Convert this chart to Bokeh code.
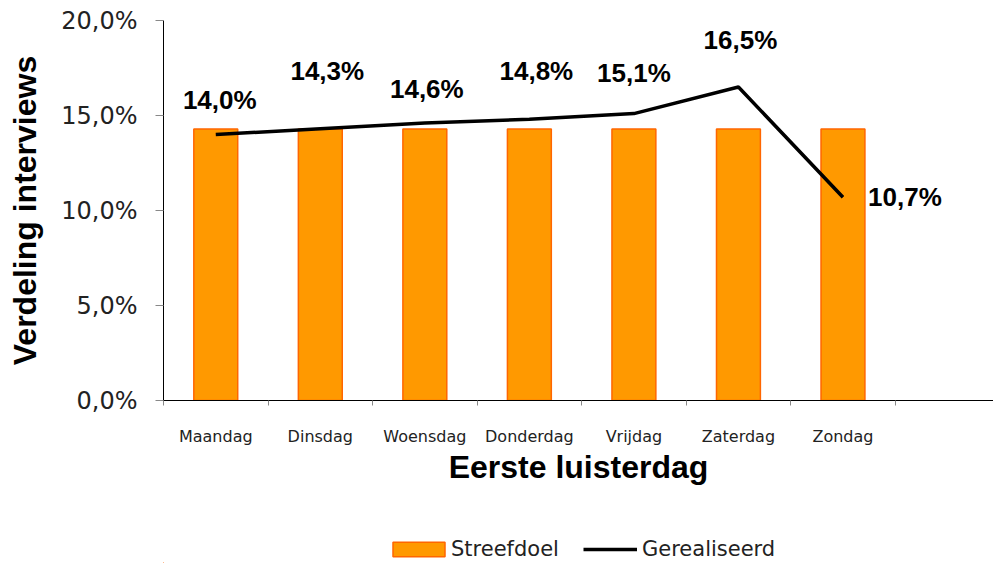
import numpy as np
from bokeh.plotting import figure
from bokeh.layouts import column
from bokeh.models import (Range1d, FixedTicker, CustomJSTickFormatter, Legend, LegendItem,
                          ColumnDataSource)
from bokeh.embed import file_html
from bokeh.resources import INLINE
from bokeh.core.properties import value

# ---- data ----
days = ["Maandag", "Dinsdag", "Woensdag", "Donderdag", "Vrijdag", "Zaterdag", "Zondag"]
streefdoel = [14.29, 14.29, 14.29, 14.29, 14.29, 14.29, 14.29]
gerealiseerd = [14.0, 14.3, 14.6, 14.8, 15.1, 16.5, 10.7]
y_ticks = [0, 5, 10, 15, 20]

# label offsets in pixels (style only)
label_dx = [4, 7, 2, 7, 0, 2, 62]
label_dy = [-35, -58, -34, -48, -41, -47, 0]

xs = np.arange(len(days)) + 0.5
labels = [f"{v:.1f}%".replace(".", ",") for v in gerealiseerd]

src = ColumnDataSource(dict(x=xs, day=days, goal=streefdoel, real=gerealiseerd,
                            lab=labels, dx=label_dx, dy=label_dy))

BAR = dict(fill_color="#FF9900", line_color="#FF6600", line_width=1.5)
LINE = dict(line_color="black", line_width=3.5)

p = figure(width=993, height=510, output_backend="svg", toolbar_location=None,
           x_range=Range1d(0, 7.94), y_range=Range1d(0, 20),
           min_border_left=163, min_border_right=0, min_border_top=20, min_border_bottom=110)
p.outline_line_color = None
p.xgrid.grid_line_color = None
p.ygrid.grid_line_color = None

bars = p.vbar(x="x", top="goal", width=0.42, source=src, **BAR)
line = p.line(x="x", y="real", source=src, **LINE)
p.text(x="x", y="real", text="lab", x_offset="dx", y_offset="dy", source=src,
       text_font=value("Liberation Sans"), text_font_style="bold", text_font_size="26px",
       text_align="center", text_baseline="middle", text_color="black")

# x axis
xa = p.xaxis[0]
xa.ticker = FixedTicker(ticks=list(xs), minor_ticks=list(range(len(days) + 1)))
xa.formatter = CustomJSTickFormatter(args=dict(labels=days),
                                     code="return labels[Math.floor(tick)] || '';")
xa.major_tick_out = 0
xa.major_tick_in = 0
xa.minor_tick_out = 5
xa.minor_tick_in = 0
xa.minor_tick_line_color = "#888888"
xa.axis_line_color = "black"
xa.major_label_text_font = "DejaVu Sans"
xa.major_label_text_font_size = "16px"
xa.major_label_text_color = "#222222"
xa.major_label_standoff = 21
xa.axis_label = "Eerste luisterdag"
xa.axis_label_text_font = "Liberation Sans"
xa.axis_label_text_font_style = "bold"
xa.axis_label_text_font_size = "32px"
xa.axis_label_text_color = "black"
xa.axis_label_standoff = 0

# y axis
ya = p.yaxis[0]
ya.ticker = FixedTicker(ticks=y_ticks)
ya.formatter = CustomJSTickFormatter(code="return tick.toFixed(1).replace('.', ',') + '%';")
ya.major_tick_out = 8
ya.major_tick_in = 0
ya.minor_tick_line_color = None
ya.major_tick_line_color = "#888888"
ya.axis_line_color = "black"
ya.major_label_text_font = "DejaVu Sans"
ya.major_label_text_font_size = "24px"
ya.major_label_text_color = "#222222"
ya.major_label_standoff = 18
ya.axis_label = "Verdeling interviews"
ya.axis_label_text_font = "Liberation Sans"
ya.axis_label_text_font_style = "bold"
ya.axis_label_text_font_size = "32px"
ya.axis_label_text_color = "black"
ya.axis_label_standoff = 15

# ---- legend strip ----
pl = figure(width=993, height=53, output_backend="svg", toolbar_location=None,
            x_axis_location=None, y_axis_location=None, min_border=0,
            x_range=Range1d(100, 101), y_range=Range1d(100, 101))
pl.outline_line_color = None
pl.xgrid.grid_line_color = None
pl.ygrid.grid_line_color = None
lbars = pl.vbar(x="x", top="goal", width=0.42, source=src, **BAR)
lline = pl.line(x="x", y="real", source=src, **LINE)

LEG = dict(orientation="horizontal", padding=0, margin=0, border_line_color=None,
           background_fill_alpha=0, label_text_font="DejaVu Sans",
           label_text_font_size="21px", label_text_color="#222222")
leg1 = Legend(items=[LegendItem(label="Streefdoel", renderers=[lbars])],
              location=(223, 2), glyph_width=65, glyph_height=18, label_standoff=0, **LEG)
leg2 = Legend(items=[LegendItem(label="Gerealiseerd", renderers=[lline])],
              location=(420, 2), glyph_width=54, glyph_height=14, label_standoff=5, **LEG)
pl.add_layout(leg1)
pl.add_layout(leg2)

layout = column(p, pl, spacing=0)
open("out.html", "w").write(file_html(layout, INLINE))
